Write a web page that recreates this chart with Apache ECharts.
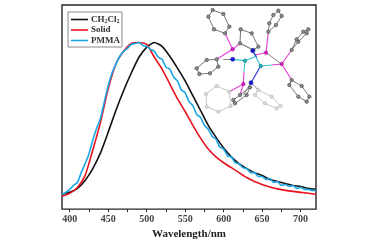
<!DOCTYPE html>
<html>
<head>
<meta charset="utf-8">
<style>html,body{margin:0;padding:0;background:#fff}#main{width:380px;height:245px}</style>
<script src="https://cdn.jsdelivr.net/npm/echarts@6/dist/echarts.min.js"></script>
</head>
<body>
<div id="main"></div>
<script>
// wavelength steps
const wl10 = [390,400,410,420,430,440,450,460,470,480,490,500,510,520,530,540,550,560,570,580,590,600,610,620,630,640,650,660,670,680,690,700,710,720];
const ch2cl2 = [15,17,21,29,41,57,78,100,120,138,154,164,169,165,155,143,130,115,100,85,73,62,53,46,41,37,34,30,28,26,24,23,21,20];
const solid = [13,16,22,34,60,88,122,147,160,168,169,167,154,142,127,112,99,85,72,61,53,47,42,37,32,28,25,22.5,20.5,19,18,17,16,15];
const wl5 = [390,395,400,405,410,415,420,425,430,435,440,445,450,455,460,465,470,475,480,485,490,495,500,505,510,515,520,525,530,535,540,545,550,555,560,565,570,575,580,585,590,595,600,605,610,615,620,625,630,635,640,645,650,655,660,665,670,675,680,685,690,695,700,705,710,715,720];
const pmma = [15,17,20,24,27,37,46,56,70,82,92,109,125,138,147,155,160,163,167,168,169,166,165,162,160,154,152,144,142,134,130,121,118,109,105,96,93,85,81,74,71,63,61,54,53,47,46,42,41,37,37,33,33,30,31,27,28,24,25,23,24,21,22,20,20,19,19];

// inset molecule, coordinates of the small second grid
const darkRings = [
  [[68,30],[100,42],[118,80],[105,100],[72,88],[55,50]],
  [[80,178],[50,180],[20,205],[28,222],[60,220],[85,200]],
  [[152,88],[185,100],[205,140],[190,150],[150,130]],
  [[265,32],[275,48],[258,75],[235,95],[238,70],[250,45]],
  [[355,88],[350,100],[325,125],[305,150],[320,118],[340,95]],
  [[305,240],[335,258],[358,290],[350,305],[325,290],[298,255]],
  [[180,262],[170,285],[135,310],[130,300],[150,285]]
];
const lightRings = [
  [[80,258],[118,275],[122,318],[85,335],[50,320],[48,282]],
  [[205,270],[245,290],[272,318],[260,325],[225,310],[195,285]]
];
const pinkBonds = [[[105,100],[128,148]],[[128,148],[80,178]],[[128,148],[150,130]],[[228,158],[235,95]],[[275,192],[305,150]],[[275,192],[305,240]],[[160,252],[150,285]],[[160,252],[118,275]],[[228,158],[195,165]],[[275,192],[245,195]],[[160,252],[162,215]]];
const cyanBonds = [[[165,182],[195,170]],[[212,198],[245,195]],[[165,182],[162,215]],[[128,178],[165,182]],[[188,152],[212,198]]];
const blueBonds = [[[212,198],[183,248]],[[188,152],[200,172]],[[118,178],[128,178]]];
const grayBonds = [[[100,178],[118,178]],[[228,158],[275,192]],[[183,248],[205,270]],[[183,248],[160,285]],[[150,130],[190,150]]];
const pinkAtoms = [[128,148],[228,158],[275,192],[160,252]];
const cyanAtoms = [[165,182],[212,198]];
const blueAtoms = [[128,178],[188,152],[183,248]];

function ringBonds(rings){
    let out = [];
    for(let r of rings){
        r.forEach((p,i)=>out.push([p,r[(i+1)%r.length]]));
    }
    return out;
}
function bondSeries(list,color,width){
    return {
        type:'lines',
        coordinateSystem:'cartesian2d',
        xAxisIndex:1,
        yAxisIndex:1,
        silent:true,
        lineStyle:{color:color,width:width,opacity:1},
        data:list.map(b=>({coords:b}))
    };
}
function atomSeries(list,color,size,border){
    return {
        type:'scatter',
        xAxisIndex:1,
        yAxisIndex:1,
        silent:true,
        symbolSize:size,
        itemStyle:{color:color,borderColor:border,borderWidth:0.6,opacity:1},
        data:list
    };
}
function curve(name,xs,ys,color){
    return {
        name:name,
        type:'line',
        showSymbol:false,
        smooth:0.2,
        lineStyle:{color:color,width:1.6},
        itemStyle:{color:color},
        data:xs.map((x,i)=>[x,ys[i]])
    };
}

const font = '"Liberation Serif"';
let chart = echarts.init(document.getElementById('main'));
chart.setOption({
    animation:false,
    backgroundColor:'#fff',
    grid:[
        {left:62,right:64,top:5,bottom:33,show:true,borderColor:'#2a2522',borderWidth:1.4,backgroundColor:'transparent'},
        {left:190,top:0,width:140,height:120}
    ],
    xAxis:[
        {
            type:'value',min:390,max:720,
            name:'Wavelength/nm',nameLocation:'middle',nameGap:16,
            nameTextStyle:{fontFamily:font,fontWeight:'bold',fontSize:11,color:'#222'},
            splitLine:{show:false},
            axisLine:{show:false},
            axisTick:{show:true,length:3,inside:false,lineStyle:{color:'#2a2522',width:1},customValues:[400,425,450,475,500,525,550,575,600,625,650,675,700]},
            axisLabel:{fontFamily:font,fontWeight:'bold',fontSize:10,color:'#444',margin:5,customValues:[400,450,500,550,600,650,700],formatter:v=>String(v),showMinLabel:true,showMaxLabel:true,hideOverlap:false}
        },
        {gridIndex:1,type:'value',min:0,max:420,show:false}
    ],
    yAxis:[
        {type:'value',min:0,max:207,show:false},
        {gridIndex:1,type:'value',min:0,max:360,inverse:true,show:false}
    ],
    legend:{
        data:['CH2Cl2','Solid','PMMA'],
        orient:'vertical',
        left:68,top:12,
        padding:[3,2,2,3],
        itemWidth:17,itemHeight:8,itemGap:1.5,
        borderColor:'#8a8a8a',borderWidth:1,
        icon:'path://M0 0H17V1.6H0Z',
        textStyle:{
            fontFamily:font,fontWeight:'bold',fontSize:9,color:'#333',padding:[0,0,0,-2],
            rich:{
                n:{fontFamily:font,fontWeight:'bold',fontSize:9,color:'#333'},
                s:{fontFamily:font,fontWeight:'bold',fontSize:6,color:'#333',verticalAlign:'bottom',padding:[3,0,0,0]}
            }
        },
        formatter:function(name){
            if(name == 'CH2Cl2') return '{n|CH}{s|2}{n|Cl}{s|2}';
            return '{n|'+name+'}';
        }
    },
    series:[
        curve('CH2Cl2',wl10,ch2cl2,'#111111'),
        curve('Solid',wl10,solid,'#e8121f'),
        curve('PMMA',wl5,pmma,'#1ba6e6'),
        bondSeries(ringBonds(lightRings),'#c8c8c8',1),
        bondSeries(ringBonds(darkRings),'#777777',1),
        bondSeries(grayBonds,'#888888',1),
        bondSeries(pinkBonds,'#e23fd0',1.1),
        bondSeries(cyanBonds,'#35c4c8',1.1),
        bondSeries(blueBonds,'#2030d8',1.1),
        atomSeries(lightRings.flat(),'#d8d8d8',3.5,'#bbbbbb'),
        atomSeries(darkRings.flat(),'#8a8a8a',3.5,'#444444'),
        atomSeries(pinkAtoms,'#d820c0',3.5,'#a01090'),
        atomSeries(cyanAtoms,'#20b0b8',3.5,'#108088'),
        atomSeries(blueAtoms,'#1818e0',4,'#101090')
    ]
});

window.addEventListener("resize", function() {
    chart.resize();
});
</script>
</body>
</html>
